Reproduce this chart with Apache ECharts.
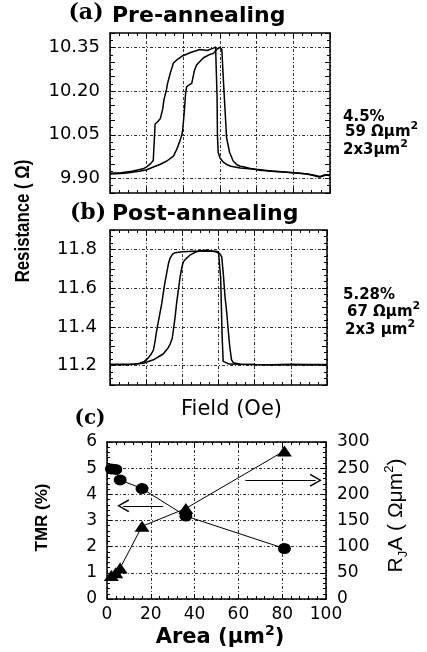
<!DOCTYPE html>
<html><head><meta charset="utf-8">
<script src="https://cdn.jsdelivr.net/npm/echarts@6/dist/echarts.min.js"></script>
<style>html,body{margin:0;padding:0;background:#fff}#c{width:427px;height:652px}</style>
</head><body><div id="c"></div>
<script>
// ---------- data ----------
// (a) pre-annealing R–H loop, field in arbitrary units (axis has no labels)
const fieldA1 = [-300,-270,-240,-210,-200,-190,-182,-179,-177,-170,-163,-159,-156,-153,-150,-146,-143,-135,-127,-115,-104,-80,-55,-35,-18,-12,-9,-8,-7,-5,0,10,18,30,55,80,110,140,170,200,230,250,270,285,300];
const resA1   = [9.918,9.920,9.925,9.933,9.940,9.950,9.962,9.968,10.087,10.095,10.105,10.110,10.140,10.170,10.185,10.205,10.227,10.265,10.297,10.310,10.320,10.333,10.343,10.340,10.348,10.352,10.352,10.18,10.05,9.99,9.970,9.955,9.948,9.942,9.936,9.933,9.930,9.926,9.923,9.920,9.916,9.912,9.905,9.912,9.910];
const fieldA2 = [-300,-260,-220,-200,-180,-164,-145,-127,-118,-109,-104,-102,-98,-94,-91,-84,-77,-70,-64,-55,-45,-30,-18,-8,0,3,5,10,18,26,36,45,55,64,80,109,140,170,200,218,240,260,275,290,300];
const resA2   = [9.915,9.918,9.925,9.930,9.940,9.948,9.960,9.977,10.000,10.030,10.050,10.064,10.120,10.190,10.215,10.222,10.227,10.270,10.290,10.302,10.315,10.325,10.330,10.345,10.351,10.352,10.343,10.22,10.04,9.99,9.960,9.948,9.942,9.940,9.935,9.928,9.925,9.922,9.920,9.918,9.915,9.910,9.906,9.913,9.912];
const yTicksA = [9.90, 10.05, 10.20, 10.35];

// (b) post-annealing R–H loop
const fieldB1 = [-300,-260,-230,-217,-205,-194,-186,-180,-175,-171,-166,-162,-157,-153,-148,-143,-138,-134,-127,-120,-100,-70,-40,-10,0,4,6,8,10,13,18,30,60,100,150,200,250,300];
const resB1   = [11.207,11.207,11.208,11.212,11.222,11.240,11.260,11.280,11.330,11.380,11.430,11.470,11.520,11.570,11.630,11.680,11.730,11.754,11.775,11.783,11.788,11.790,11.790,11.790,11.788,11.780,11.650,11.500,11.350,11.222,11.212,11.208,11.207,11.206,11.205,11.207,11.205,11.206];
const fieldB2 = [-300,-250,-208,-180,-153,-140,-134,-128,-125,-120,-116,-111,-106,-101,-97,-88,-79,-65,-51,-37,-23,-5,5,9,13,18,23,27,31,36,41,46,60,100,150,200,250,300];
const resB2   = [11.204,11.205,11.212,11.230,11.260,11.290,11.310,11.340,11.380,11.450,11.520,11.590,11.660,11.710,11.736,11.755,11.770,11.785,11.793,11.795,11.793,11.786,11.775,11.760,11.680,11.556,11.470,11.380,11.300,11.230,11.215,11.210,11.207,11.206,11.205,11.204,11.206,11.205];
const yTicksB = [11.2, 11.4, 11.6, 11.8];

// (c) TMR and RjA versus junction area
const areas = [2, 4, 6, 16, 36, 81];
const tmr   = [4.97, 4.95, 4.55, 4.22, 3.17, 1.93];
const ra    = [45, 50, 59, 139, 173, 283];

// ---------- helpers ----------
const zip = (xs, ys) => xs.map((x, i) => [x, ys[i]]);
const BLACK = '#000';
const GRIDC = '#333';
const DASH = [3, 2, 1, 2];
const isTick = (v, list) => list.some(t => Math.abs(v - t) < 1e-6);
function splitColors(min, max, step, list) {
  const out = [];
  const n = Math.round((max - min) / step);
  for (let i = 0; i <= n; i++) out.push(isTick(min + i * step, list) ? GRIDC : 'rgba(0,0,0,0)');
  return out;
}
function frame(extra, minorSplit) {
  return Object.assign({
    type: 'value',
    axisLine: { show: true, onZero: false, lineStyle: { color: BLACK, width: 1.5 } },
    axisTick: { show: true, inside: true, length: 5, lineStyle: { color: BLACK, width: 1 } },
    minorTick: { show: true, splitNumber: minorSplit, length: 3, lineStyle: { color: BLACK, width: 1 } },
    axisLabel: { show: false },
    splitLine: { show: false }
  }, extra);
}
const lbl = (size, extra) => Object.assign({ show: true, color: BLACK, fontFamily: 'DejaVu Sans', fontSize: size }, extra);
const loopLine = { color: BLACK, width: 1.5 };
const NARROW = '"Liberation Sans", Arial, sans-serif';

const chart = echarts.init(document.getElementById('c'), null, { renderer: 'canvas' });
chart.setOption({
  animation: false,
  backgroundColor: '#fff',
  grid: [
    { left: 110, top: 33, width: 220, height: 160 },
    { left: 110, top: 230, width: 217, height: 155 },
    { left: 107, top: 442, width: 219, height: 157 }
  ],
  xAxis: [
    frame({ gridIndex: 0, min: -300, max: 300, interval: 100,
      splitLine: { show: true, lineStyle: { color: GRIDC, type: DASH, width: 1 } } }, 4),
    frame({ gridIndex: 0, position: 'top', min: -300, max: 300, interval: 100 }, 4),
    frame({ gridIndex: 1, min: -300, max: 300, interval: 100,
      splitLine: { show: true, lineStyle: { color: GRIDC, type: DASH, width: 1 } },
      name: 'Field (Oe)', nameLocation: 'middle', nameGap: 14,
      nameTextStyle: { color: BLACK, fontFamily: 'DejaVu Sans', fontSize: 21, padding: [0, 0, 0, 26] } }, 4),
    frame({ gridIndex: 1, position: 'top', min: -300, max: 300, interval: 100 }, 4),
    frame({ gridIndex: 2, min: 0, max: 100, interval: 20,
      axisLabel: lbl(17, { margin: 7 }),
      splitLine: { show: true, lineStyle: { color: GRIDC, type: DASH, width: 1 } },
      name: 'Area (μm{sup|2})', nameLocation: 'middle', nameGap: 24,
      nameTextStyle: { color: BLACK, fontFamily: 'DejaVu Sans', fontWeight: 'bold', fontSize: 21, lineHeight: 27,
        padding: [0, 0, 0, 7],
        rich: { sup: { fontFamily: 'DejaVu Sans', fontWeight: 'bold', fontSize: 14, verticalAlign: 'top', color: BLACK } } } }, 5),
    frame({ gridIndex: 2, position: 'top', min: 0, max: 100, interval: 20 }, 5)
  ],
  yAxis: [
    frame({ gridIndex: 0, min: 9.85, max: 10.40, interval: 0.05,
      axisLabel: lbl(18, { margin: 10, formatter: v => isTick(v, yTicksA) ? v.toFixed(2) : '' }),
      splitLine: { show: true, lineStyle: { color: splitColors(9.85, 10.40, 0.05, yTicksA), type: DASH, width: 1 } } }, 2),
    frame({ gridIndex: 0, position: 'right', min: 9.85, max: 10.40, interval: 0.05 }, 2),
    frame({ gridIndex: 1, min: 11.1, max: 11.9, interval: 0.1,
      axisLabel: lbl(18, { margin: 13, formatter: v => isTick(v, yTicksB) ? v.toFixed(1) : '' }),
      splitLine: { show: true, lineStyle: { color: splitColors(11.1, 11.9, 0.1, yTicksB), type: DASH, width: 1 } } }, 3),
    frame({ gridIndex: 1, position: 'right', min: 11.1, max: 11.9, interval: 0.1 }, 3),
    frame({ gridIndex: 2, min: 0, max: 6, interval: 1,
      axisLabel: lbl(17, { margin: 10 }),
      splitLine: { show: true, lineStyle: { color: GRIDC, type: DASH, width: 1 } },
      name: 'TMR (%)', nameLocation: 'middle', nameRotate: 90, nameGap: 56,
      nameTextStyle: { color: BLACK, fontFamily: NARROW, fontWeight: 'bold', fontSize: 17, padding: [0, 0, 0, 6] } }, 5),
    frame({ gridIndex: 2, position: 'right', min: 0, max: 300, interval: 50,
      axisLabel: lbl(17, { margin: 11 }),
      name: '{n|R}{sub|J}{n|A ( Ωμm}{sup|2}{n|)}', nameLocation: 'middle', nameRotate: 90, nameGap: 57,
      nameTextStyle: { color: BLACK, fontSize: 21, padding: [0, 0, 0, 10],
        rich: {
          n: { fontFamily: NARROW, fontSize: 21, color: BLACK, lineHeight: 27 },
          sub: { fontFamily: NARROW, fontSize: 13, color: BLACK, verticalAlign: 'bottom' },
          sup: { fontFamily: NARROW, fontSize: 13, color: BLACK, verticalAlign: 'top' }
        } } }, 5)
  ],
  series: [
    { type: 'line', xAxisIndex: 0, yAxisIndex: 0, data: zip(fieldA1, resA1), symbol: 'none', lineStyle: loopLine, silent: true },
    { type: 'line', xAxisIndex: 0, yAxisIndex: 0, data: zip(fieldA2, resA2), symbol: 'none', lineStyle: loopLine, silent: true },
    { type: 'line', xAxisIndex: 2, yAxisIndex: 2, data: zip(fieldB1, resB1), symbol: 'none', lineStyle: loopLine, silent: true },
    { type: 'line', xAxisIndex: 2, yAxisIndex: 2, data: zip(fieldB2, resB2), symbol: 'none', lineStyle: loopLine, silent: true },
    { type: 'line', xAxisIndex: 4, yAxisIndex: 4, data: zip(areas, tmr), symbol: 'circle', symbolSize: [13, 11],
      itemStyle: { color: BLACK }, lineStyle: { color: BLACK, width: 1 }, silent: true,
      markLine: { silent: true, symbol: ['none', 'path://M5,0 L10,11 L9,11.8 L5,2.6 L1,11.8 L0,11 Z'], symbolSize: [13, 12],
        label: { show: false }, lineStyle: { color: BLACK, width: 1, type: 'solid' },
        data: [
          [{ coord: [25.6, 3.56] }, { coord: [7.4, 3.56] }],
          [{ coord: [63.2, 4.54] }, { coord: [95.3, 4.54] }]
        ] } },
    { type: 'line', xAxisIndex: 4, yAxisIndex: 5, data: zip(areas, ra), symbol: 'triangle', symbolSize: [15, 11],
      itemStyle: { color: BLACK }, lineStyle: { color: BLACK, width: 1 }, silent: true }
  ],
  graphic: [
    { type: 'text', x: 86, y: 13, style: { text: '(a)', font: 'bold 22px "DejaVu Serif"', fill: BLACK, align: 'center', verticalAlign: 'middle', textAlign: 'center', textVerticalAlign: 'middle' } },
    { type: 'text', x: 112, y: 16, style: { text: 'Pre-annealing', font: 'bold 22px "DejaVu Sans"', fill: BLACK, align: 'left', verticalAlign: 'middle', textAlign: 'left', textVerticalAlign: 'middle' } },
    { type: 'text', x: 88, y: 213, style: { text: '(b)', font: 'bold 22px "DejaVu Serif"', fill: BLACK, align: 'center', verticalAlign: 'middle', textAlign: 'center', textVerticalAlign: 'middle' } },
    { type: 'text', x: 112, y: 214, style: { text: 'Post-annealing', font: 'bold 22px "DejaVu Sans"', fill: BLACK, align: 'left', verticalAlign: 'middle', textAlign: 'left', textVerticalAlign: 'middle' } },
    { type: 'text', x: 90, y: 419, style: { text: '(c)', font: 'bold 20px "DejaVu Serif"', fill: BLACK, align: 'center', verticalAlign: 'middle', textAlign: 'center', textVerticalAlign: 'middle' } },
    { type: 'text', x: 23, y: 221, rotation: Math.PI / 2, scaleX: 0.8,
      style: { text: 'Resistance ( Ω)', font: 'bold 21px "Liberation Sans", Arial, sans-serif', fill: BLACK, align: 'center', verticalAlign: 'middle', textAlign: 'center', textVerticalAlign: 'middle' } },
    // annotations (a)
    { type: 'text', x: 343, y: 117, style: { text: '4.5%', font: 'bold 15px "DejaVu Sans"', fill: BLACK, align: 'left', verticalAlign: 'middle', textAlign: 'left', textVerticalAlign: 'middle' } },
    { type: 'text', x: 345, y: 132, style: { text: '59 Ωμm{s|2}', font: 'bold 15px "DejaVu Sans"', fill: BLACK, lineHeight: 22, align: 'left', verticalAlign: 'middle', textAlign: 'left', textVerticalAlign: 'middle',
      rich: { s: { fontFamily: 'DejaVu Sans', fontWeight: 'bold', fontSize: 11, verticalAlign: 'top', fill: BLACK } } } },
    { type: 'text', x: 343, y: 150, style: { text: '2x3μm{s|2}', font: 'bold 15px "DejaVu Sans"', fill: BLACK, lineHeight: 22, align: 'left', verticalAlign: 'middle', textAlign: 'left', textVerticalAlign: 'middle',
      rich: { s: { fontFamily: 'DejaVu Sans', fontWeight: 'bold', fontSize: 11, verticalAlign: 'top', fill: BLACK } } } },
    // annotations (b)
    { type: 'text', x: 343, y: 295, style: { text: '5.28%', font: 'bold 15px "DejaVu Sans"', fill: BLACK, align: 'left', verticalAlign: 'middle', textAlign: 'left', textVerticalAlign: 'middle' } },
    { type: 'text', x: 347, y: 312, style: { text: '67 Ωμm{s|2}', font: 'bold 15px "DejaVu Sans"', fill: BLACK, lineHeight: 22, align: 'left', verticalAlign: 'middle', textAlign: 'left', textVerticalAlign: 'middle',
      rich: { s: { fontFamily: 'DejaVu Sans', fontWeight: 'bold', fontSize: 11, verticalAlign: 'top', fill: BLACK } } } },
    { type: 'text', x: 345, y: 330, style: { text: '2x3 μm{s|2}', font: 'bold 15px "DejaVu Sans"', fill: BLACK, lineHeight: 22, align: 'left', verticalAlign: 'middle', textAlign: 'left', textVerticalAlign: 'middle',
      rich: { s: { fontFamily: 'DejaVu Sans', fontWeight: 'bold', fontSize: 11, verticalAlign: 'top', fill: BLACK } } } }
  ]
});
</script>
</body></html>
